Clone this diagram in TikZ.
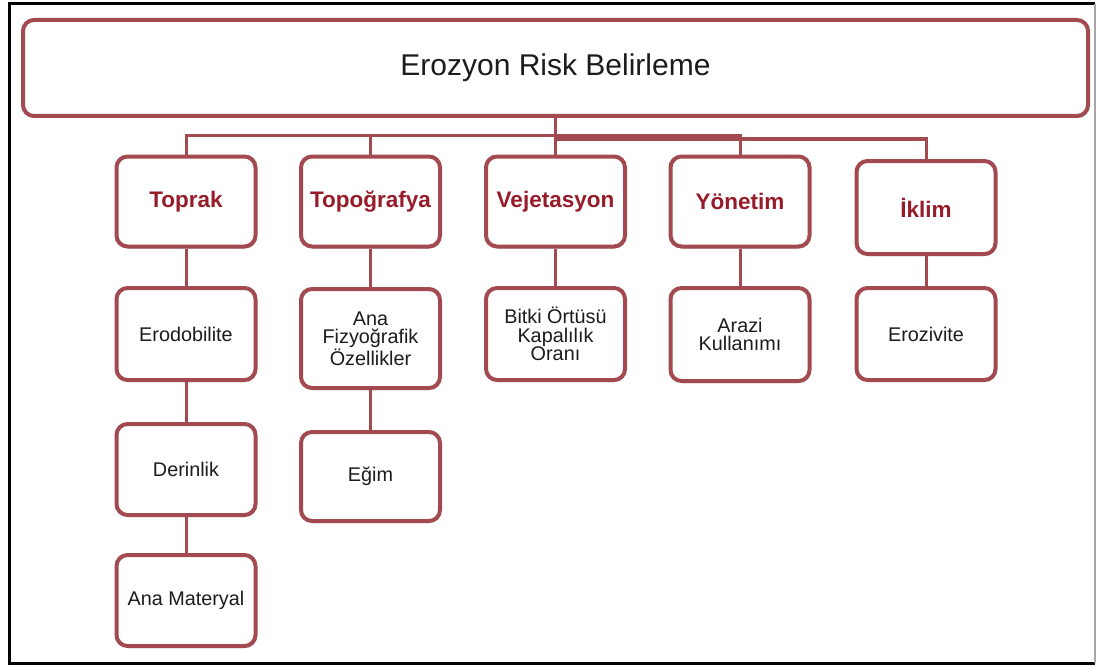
\documentclass[tikz,border=0pt]{standalone}
\usepackage{fontspec}
\setmainfont{Liberation Sans}
\usetikzlibrary{shadows,calc}
\definecolor{boxc}{RGB}{163,74,80}
\definecolor{labc}{RGB}{150,28,42}
\definecolor{txtc}{RGB}{28,28,28}
\tikzset{
  box/.style={draw=boxc, line width=4pt, rounded corners=11pt, fill=white,
    inner sep=0pt, align=center, text=txtc,
    drop shadow={opacity=0.22, shadow xshift=1pt, shadow yshift=-2pt, fill=black}},
  titlebox/.style={box, minimum width=1065pt, minimum height=96pt,
    font=\fontsize{30}{34}\selectfont},
  catbox/.style={box, minimum width=139pt, minimum height=90pt, text=labc,
    font=\fontsize{22.5}{26}\selectfont\bfseries},
  subbox/.style={box, minimum width=139pt, minimum height=91pt,
    font=\fontsize{19.8}{18.5}\selectfont},
  conn/.style={draw=boxc, line width=3pt},
  frameline/.style={draw=black, line width=3pt},
}
\begin{document}
\begin{tikzpicture}[x=1pt,y=-1pt]
\useasboundingbox (0,0) rectangle (1097,666);
\fill[white] (0,0) rectangle (1097,666);
% outer frame
\draw[frameline] (1095,4) -- (9,4) -- (9,663) -- (1095,663);
\draw[gray!70, line width=1.5pt] (1095,4) -- (1095,663);

% title
\node[titlebox] (top) at (555.5,68) {Erozyon Risk Belirleme};

% bus coordinates
\coordinate (bus1) at (555.5,136);
\coordinate (bus2) at (555.5,139);

% categories
\node[catbox] (toprak) at (186,201.5) {Toprak};
\node[catbox] (topog) at (370.5,201.5) {Topoğrafya};
\node[catbox] (vejet) at (555.5,201.5) {Vejetasyon};
\node[catbox] (yonet) at (740,201.5) {Yönetim};
\node[catbox, minimum height=93pt] (iklim) at (926,207.5) {İklim};

% sub items
\node[subbox, minimum height=92pt] (erod) at (186,334) {Erodobilite};
\node[subbox, minimum height=99pt] (anafiz) at (370.5,338.5) {Ana\\Fizyoğrafik\\Özellikler};
\node[subbox, minimum height=92pt] (bitki) at (555.5,334) {Bitki Örtüsü\\Kapalılık\\Oranı};
\node[subbox, minimum height=93pt] (arazi) at (740,334.5) {Arazi\\Kullanımı};
\node[subbox, minimum height=92pt] (eroz) at (926,334) {Erozivite};
\node[subbox] (derin) at (186,469.5) {Derinlik};
\node[subbox, minimum height=89pt] (egim) at (370.5,476.5) {Eğim};
\node[subbox] (anamat) at (186,600.5) {Ana Materyal};

% connectors from title
\draw[conn] (top.south) -- (top.south |- bus1) -| (toprak.north);
\draw[conn] (top.south) -- (top.south |- bus1) -| (topog.north);
\draw[conn] (top.south) -- (vejet.north);
\draw[conn] (top.south) -- (top.south |- bus1) -| (yonet.north);
\draw[conn] (top.south) -- (top.south |- bus2) -| (iklim.north);

% vertical connectors
\draw[conn] (toprak) -- (erod);
\draw[conn] (erod) -- (derin);
\draw[conn] (derin) -- (anamat);
\draw[conn] (topog) -- (anafiz);
\draw[conn] (anafiz) -- (egim);
\draw[conn] (vejet) -- (bitki);
\draw[conn] (yonet) -- (arazi);
\draw[conn] (iklim) -- (eroz);
\end{tikzpicture}
\end{document}
